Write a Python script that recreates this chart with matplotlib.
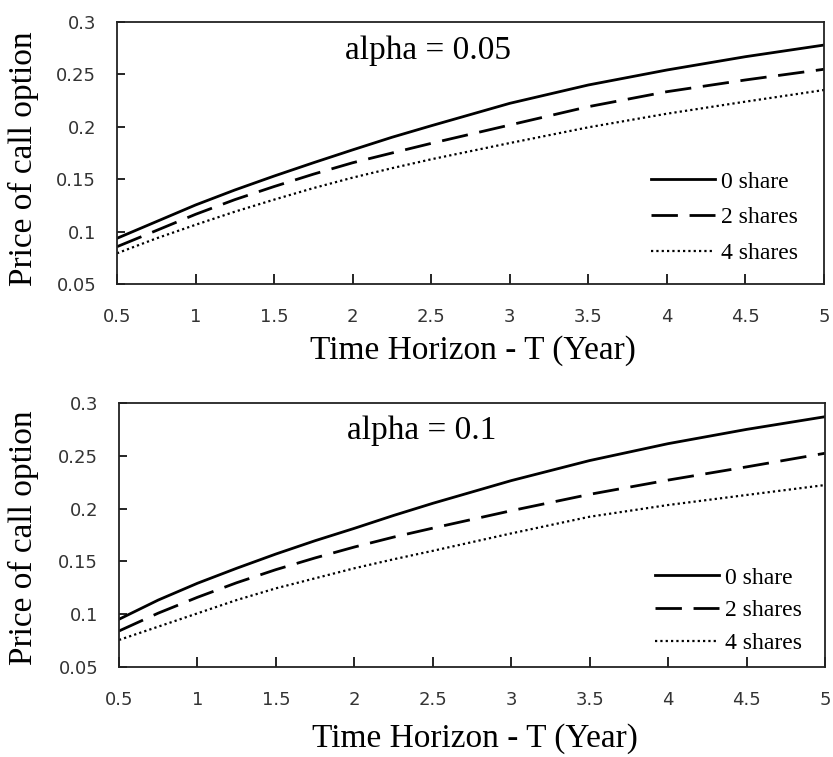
import matplotlib
matplotlib.use("Agg")
import matplotlib.pyplot as plt

# Time horizon T (years)
T = [0.5, 0.75, 1.0, 1.25, 1.5, 1.75, 2.0, 2.25, 2.5, 3.0, 3.5, 4.0, 4.5, 5.0]

# alpha = 0.05
a05_share0 = [0.0936, 0.1095, 0.1254, 0.1397, 0.1530, 0.1657, 0.1780, 0.1900, 0.2010,
              0.2224, 0.2399, 0.2542, 0.2669, 0.2780]
a05_share2 = [0.0856, 0.1010, 0.1165, 0.1305, 0.1430, 0.1548, 0.1657, 0.1750, 0.1842,
              0.2017, 0.2192, 0.2335, 0.2447, 0.2549]
a05_share4 = [0.0793, 0.0935, 0.1065, 0.1190, 0.1305, 0.1415, 0.1515, 0.1605, 0.1690,
              0.1845, 0.1995, 0.2125, 0.2240, 0.2351]

# alpha = 0.1
a10_share0 = [0.0952, 0.1134, 0.1293, 0.1435, 0.1570, 0.1696, 0.1813, 0.1935, 0.2050,
              0.2265, 0.2455, 0.2615, 0.2750, 0.2870]
a10_share2 = [0.0841, 0.1010, 0.1160, 0.1298, 0.1422, 0.1533, 0.1636, 0.1730, 0.1815,
              0.1980, 0.2135, 0.2270, 0.2395, 0.2524]
a10_share4 = [0.0756, 0.0882, 0.1008, 0.1134, 0.1245, 0.1340, 0.1435, 0.1520, 0.1600,
              0.1765, 0.1923, 0.2034, 0.2129, 0.2223]

series_labels = ["0 share", "2 shares", "4 shares"]
panel_titles = ["alpha = 0.05", "alpha = 0.1"]
x_ticks = [0.5, 1, 1.5, 2, 2.5, 3, 3.5, 4, 4.5, 5]
y_ticks = [0.05, 0.1, 0.15, 0.2, 0.25, 0.3]

serif = ["Liberation Serif", "DejaVu Serif"]
sans = ["DejaVu Sans"]

W, H = 833, 757
fig = plt.figure(figsize=(W / 100, H / 100), dpi=100)

# panel layout in pixels: axes box, legend anchor, legend row spacing, label positions
layout = [
    dict(box=(117, 22, 824, 284), leg=(651, 171), spacing=0.61,
         title=(0.322, 0.890), ylab=(-0.133, 0.477), xlab=(0.504, -0.256)),
    dict(box=(119, 403, 825, 667), leg=(655, 567), spacing=0.47,
         title=(0.323, 0.895), ylab=(-0.136, 0.489), xlab=(0.504, -0.272)),
]
panels = [
    (a05_share0, a05_share2, a05_share4),
    (a10_share0, a10_share2, a10_share4),
]
styles = [
    dict(linestyle="-", linewidth=2.0),
    dict(linestyle=(0, (9.5, 4.2)), linewidth=2.0),
    dict(linestyle=(0, (1, 1.4)), linewidth=1.6),
]

for lay, data, title in zip(layout, panels, panel_titles):
    l, t, r, b = lay["box"]
    ax = fig.add_axes([l / W, 1 - b / H, (r - l) / W, (b - t) / H])
    for vals, lab, st in zip(data, series_labels, styles):
        ax.plot(T, vals, color="black", label=lab, **st)
    ax.set_xlim(0.5, 5)
    ax.set_ylim(0.05, 0.3)
    ax.set_xticks(x_ticks)
    ax.set_xticklabels([f"{v:g}" for v in x_ticks], fontfamily=sans, fontsize=13, color="#333333")
    ax.set_yticks(y_ticks)
    ax.set_yticklabels([f"{v:g}" for v in y_ticks], fontfamily=sans, fontsize=13, color="#333333")
    ax.tick_params(axis="x", direction="in", length=7, width=1.2, pad=17, top=False)
    ax.tick_params(axis="y", direction="in", length=6, width=1.2, pad=15, right=False)
    for sp in ax.spines.values():
        sp.set_linewidth(1.3)
        sp.set_color("#222222")
    ax.text(*lay["title"], title, transform=ax.transAxes, fontfamily=serif,
            fontsize=24, ha="left", va="center")
    ax.set_xlabel("Time Horizon - T (Year)", fontfamily=serif, fontsize=24)
    ax.xaxis.set_label_coords(*lay["xlab"])
    ax.xaxis.label.set_va("center")
    ax.set_ylabel("Price of call option", fontfamily=serif, fontsize=24)
    ax.yaxis.set_label_coords(*lay["ylab"])
    ax.yaxis.label.set_va("center")
    lx, ly = lay["leg"]
    ax.legend(loc="upper left", bbox_to_anchor=(lx / W, 1 - ly / H),
              bbox_transform=fig.transFigure, frameon=False,
              prop={"family": serif, "size": 17}, borderpad=0, borderaxespad=0,
              handlelength=2.7, handletextpad=0.25, labelspacing=lay["spacing"])

fig.savefig("out.png", dpi=100, facecolor="white")
